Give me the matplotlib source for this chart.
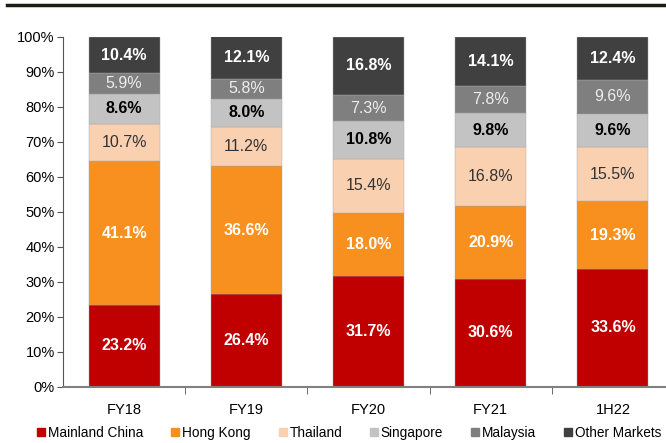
import matplotlib
matplotlib.use("Agg")
import matplotlib.pyplot as plt
from matplotlib.lines import Line2D
import numpy as np

plt.rcParams['font.family'] = ['Liberation Sans', 'DejaVu Sans']

periods = ["FY18", "FY19", "FY20", "FY21", "1H22"]
markets = ["Mainland China", "Hong Kong", "Thailand", "Singapore", "Malaysia", "Other Markets"]
mainland = [23.2, 26.4, 31.7, 30.6, 33.6]
hong_kong = [41.1, 36.6, 18.0, 20.9, 19.3]
thailand = [10.7, 11.2, 15.4, 16.8, 15.5]
singapore = [8.6, 8.0, 10.8, 9.8, 9.6]
malaysia = [5.9, 5.8, 7.3, 7.8, 9.6]
other = [10.4, 12.1, 16.8, 14.1, 12.4]
yticks = [0, 10, 20, 30, 40, 50, 60, 70, 80, 90, 100]

series = [mainland, hong_kong, thailand, singapore, malaysia, other]
colors = ["#C00000", "#F7901E", "#F9D0B0", "#C3C3C3", "#7F7F7F", "#404040"]
lab_color = ["white", "white", "#333333", "black", "#EDEDED", "white"]
lab_weight = ["bold", "bold", "normal", "bold", "normal", "bold"]

fig = plt.figure(figsize=(6.66, 4.43), dpi=100)
ax = fig.add_axes([63 / 666, 1 - 386.5 / 443, 611 / 666, 350 / 443])

x = np.arange(len(periods))
bottom = np.zeros(len(periods))
for vals, c, lc, lw, name in zip(series, colors, lab_color, lab_weight, markets):
    vals = np.array(vals)
    ax.bar(x, vals, 0.58, bottom=bottom, color=c, edgecolor="#a8a8a8", linewidth=0.3, label=name)
    for xi, b, v in zip(x, bottom, vals):
        ax.text(xi, b + v / 2, f"{v:.1f}%", ha="center", va="center",
                color=lc, fontweight=lw, fontsize=11.5)
    bottom += vals

ax.set_xlim(-0.5, 4.5)
ax.set_ylim(0, 100)
ax.set_yticks(yticks)
ax.set_yticklabels([f"{t}%" for t in yticks], fontsize=10.5)
ax.set_xticks(x)
ax.set_xticklabels(periods, fontsize=10.5)
ax.set_xticks(np.arange(len(periods)) + 0.5, minor=True)
ax.tick_params(axis="x", which="major", length=0, pad=12)
ax.tick_params(axis="x", which="minor", length=5, color="#555555", direction="out")
ax.tick_params(axis="y", length=4, color="#555555", pad=2)
for s in ["top", "right"]:
    ax.spines[s].set_visible(False)
ax.spines["left"].set_color("#555555")
ax.spines["bottom"].set_color("#808080")
ax.spines["bottom"].set_linewidth(1.5)

handles = [Line2D([0], [0], marker="s", linestyle="none", markersize=5.5,
                  markerfacecolor=c, markeredgecolor=c) for c in colors]
fig.legend(handles, markets, loc="center left", bbox_to_anchor=(35 / 666, 1 - 433 / 443),
           ncol=6, frameon=False, fontsize=9.8, handletextpad=0.05, columnspacing=1.9,
           handlelength=0.9, borderpad=0, borderaxespad=0)

# dark rule left from the cropped title above
fig.add_artist(Line2D([7 / 666, 1.0], [1 - 5 / 443, 1 - 5 / 443], color="#1f1a12",
                      linewidth=2.5, transform=fig.transFigure))

fig.savefig("out.png", dpi=100)
